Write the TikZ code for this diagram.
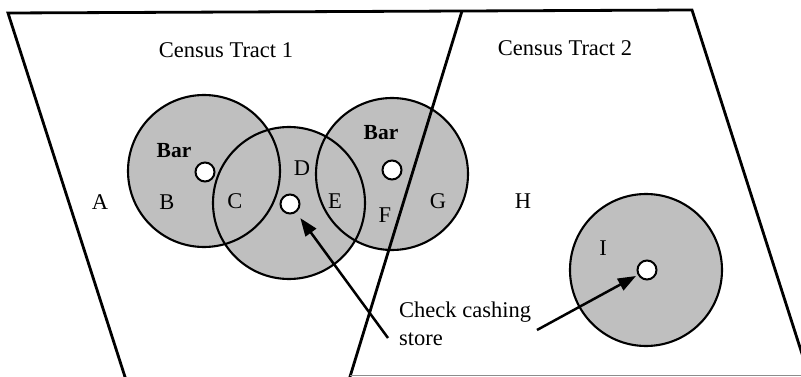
\documentclass[tikz,border=0pt]{standalone}
\usepackage{fontspec}
\setmainfont{Liberation Serif}
\usetikzlibrary{arrows.meta}
\begin{document}
\begin{tikzpicture}[x=1pt,y=-1pt,
  zonefill/.style={circle,fill=black!25,minimum size=152pt,inner sep=0pt},
  zoneline/.style={circle,draw=black,line width=2.1pt,minimum size=152pt,inner sep=0pt},
  site/.style={circle,draw=black,fill=white,line width=2pt,minimum size=19pt,inner sep=0pt},
  lbl/.style={font=\fontsize{22.5}{28}\selectfont,inner sep=0pt},
  barlbl/.style={font=\fontsize{21.5}{27}\selectfont\bfseries,inner sep=0pt},
  border/.style={line width=2.8pt,line join=miter},
  pointer/.style={line width=2.5pt,-{Triangle[length=18pt,width=13pt]}}]
\useasboundingbox (0,0) rectangle (801,377);
\clip (0,0) rectangle (801,377);
\fill[white] (0,0) rectangle (801,377);
% zone fills
\node[zonefill] (z1) at (204,171) {};
\node[zonefill] (z2) at (289,203) {};
\node[zonefill] (z3) at (392,174) {};
\node[zonefill] (z4) at (646,270) {};
% zone borders
\node[zoneline] at (z1) {};
\node[zoneline] at (z2) {};
\node[zoneline] at (z3) {};
\node[zoneline] at (z4) {};
% tract boundaries
\coordinate (tl) at (8,13);
\coordinate (tr) at (692,10);
\coordinate (bl) at (126,380);
\coordinate (br) at (812,385);
\coordinate (mt) at (462,11);
\coordinate (mb) at (349,380);
\draw[border] (bl) -- (tl) -- (tr) -- (br);
\draw[border] (mt) -- (mb);
\draw[black!45,line width=1pt] (350,375.5) -- (801,375.5);
% sites
\node[site] (s1) at (205,172) {};
\node[site] (s2) at (290,204) {};
\node[site] (s3) at (392,170) {};
\node[site] (s4) at (647,270) {};
% labels
\node[lbl] (t1) at (226,50) {Census Tract 1};
\node[lbl] (t2) at (565,48) {Census Tract 2};
\node[barlbl] (b1) at (174,151) {Bar};
\node[barlbl] (b2) at (381,133) {Bar};
\node[lbl] (la) at (100,202) {A};
\node[lbl] (lb) at (167,202) {B};
\node[lbl] (lc) at (235,201) {C};
\node[lbl] (ld) at (302,168) {D};
\node[lbl] (le) at (335,201) {E};
\node[lbl] (lf) at (385,215) {F};
\node[lbl] (lg) at (438,201) {G};
\node[lbl] (lh) at (523,201) {H};
\node[lbl] (li) at (603,248) {I};
\node[lbl,align=left,anchor=north west] (chk) at (399,302) {Check cashing\\store};
% pointers
\coordinate (p1) at (388,338);
\coordinate (p2) at (537,330);
\draw[pointer,shorten >=7pt] (p1) -- (s2);
\draw[pointer,shorten >=2pt] (p2) -- (s4);
\end{tikzpicture}
\end{document}
